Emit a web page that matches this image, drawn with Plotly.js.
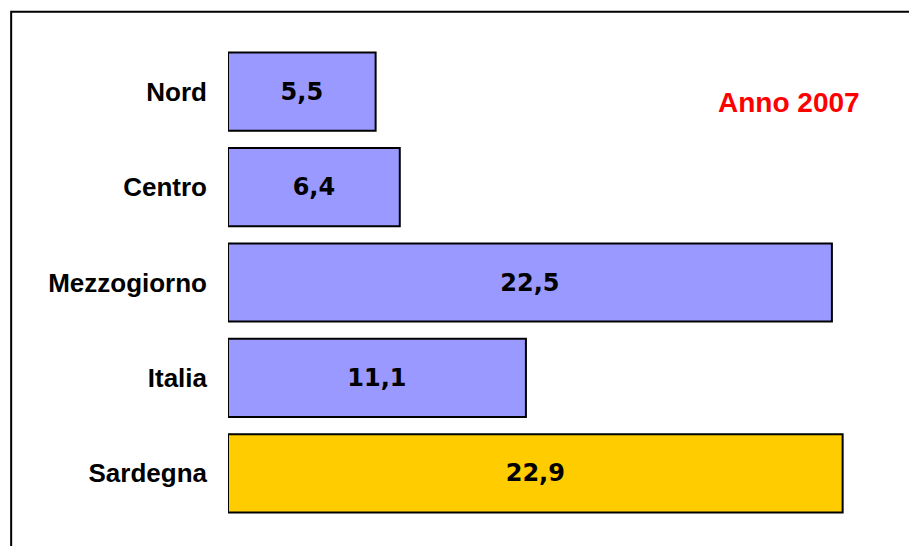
<!DOCTYPE html>
<html>
<head>
<meta charset="utf-8">
<script src="https://cdn.plot.ly/plotly-3.0.1.min.js"></script>
<style>html,body{margin:0;padding:0;background:#fff;}#chart{width:909px;height:546px;}</style>
</head>
<body>
<div id="chart"></div>
<script>
const categories = ["Nord", "Centro", "Mezzogiorno", "Italia", "Sardegna"];
const values = [5.5, 6.4, 22.5, 11.1, 22.9];
const barColors = ["#9999FF", "#9999FF", "#9999FF", "#9999FF", "#FFCC00"];
const yearLabel = "Anno 2007";

const W = 909, H = 546;
const plotL = 228, plotR = 899.5, plotT = 44.3, plotB = 521.2;
const pw = plotR - plotL, ph = plotB - plotT;
const px = v => (v - plotL) / pw;
const py = v => (plotB - v) / ph;

const trace = {
  type: "bar",
  orientation: "h",
  x: values,
  y: categories,
  marker: { color: barColors, line: { color: "#000", width: 2 } },
  texttemplate: "%{x:.1f}",
  textposition: "inside",
  insidetextanchor: "middle",
  textangle: 0,
  constraintext: "none",
  insidetextfont: { family: "DejaVu Sans", size: 24, color: "#000", weight: "bold" },
  hoverinfo: "skip",
  cliponaxis: false
};

const layout = {
  width: W, height: H,
  separators: ",.",
  margin: { l: plotL, r: W - plotR, t: plotT, b: H - plotB, pad: 0 },
  paper_bgcolor: "#fff",
  plot_bgcolor: "rgba(0,0,0,0)",
  bargap: 0.18,
  showlegend: false,
  xaxis: { range: [0, 25], visible: false, fixedrange: true },
  yaxis: {
    type: "category",
    autorange: "reversed",
    showgrid: false, zeroline: false, showline: false,
    ticks: "",
    ticklabelstandoff: 20,
    tickfont: { family: "Liberation Sans", size: 26, color: "#000", weight: "bold" },
    fixedrange: true
  },
  shapes: [
    { type: "rect", xref: "paper", yref: "paper",
      x0: px(11), x1: px(W + 20), y0: py(H + 20), y1: py(12),
      line: { color: "#000", width: 2 }, fillcolor: "rgba(0,0,0,0)", layer: "below" }
  ],
  annotations: [
    { text: yearLabel, xref: "paper", yref: "paper",
      x: px(789), y: py(103), xanchor: "center", yanchor: "middle",
      showarrow: false,
      font: { family: "Liberation Sans", size: 28, color: "#FF0000", weight: "bold" } }
  ]
};

Plotly.newPlot("chart", [trace], layout, { staticPlot: true, displayModeBar: false });
</script>
</body>
</html>
